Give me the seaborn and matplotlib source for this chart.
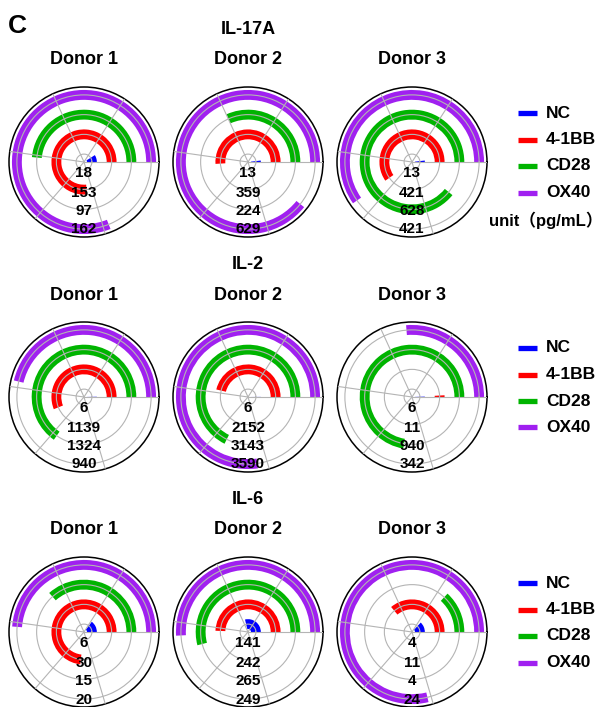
import numpy as np
import pandas as pd
import matplotlib
matplotlib.use("Agg")
import matplotlib.pyplot as plt
from matplotlib.lines import Line2D
import seaborn as sns

# data
treatments = ["NC", "4-1BB", "CD28", "OX40"]
colors = ["#0000ff", "#ff0000", "#00b400", "#a020f0"]
donors = ["Donor 1", "Donor 2", "Donor 3"]
cytokines = ["IL-17A", "IL-2", "IL-6"]

il17a = [[18, 153, 97, 162], [13, 359, 224, 629], [13, 421, 628, 421]]
il2 = [[6, 1139, 1324, 940], [6, 2152, 3143, 3590], [6, 11, 940, 342]]
il6 = [[6, 30, 15, 20], [141, 242, 265, 249], [4, 11, 4, 24]]

# value that one full turn of the circle stands for, per donor panel
il17a_turn = [200, 705, 705]
il2_turn = [2030, 4650, 1300]
il6_turn = [41, 490, 30.5]

panels = [il17a, il2, il6]
turns = [il17a_turn, il2_turn, il6_turn]

sns.set_theme(style="white", rc={"text.color": "black", "axes.labelcolor": "black"})
plt.rcParams["font.family"] = ["Liberation Sans", "Noto Sans CJK SC", "DejaVu Sans"]

W, H = 607, 707
col_cx = [84, 248, 412]
row_cy = [162, 397, 632]
R = 75
ring_pos = np.arange(4) + 0.4
label_r = [0.55, 1.55, 2.5, 3.42]


def fx(px):
    return px / W


def fy(py):
    return 1 - py / H


fig = plt.figure(figsize=(W / 100, H / 100), dpi=100)
fig.patch.set_facecolor("white")

fig.text(fx(8), fy(26), "C", ha="left", va="center", fontsize=19,
         weight="bold", color="black")

for i, (cyto, data, turn) in enumerate(zip(cytokines, panels, turns)):
    cy = row_cy[i]
    fig.text(fx(col_cx[1]), fy(cy - R - 57), cyto, ha="center", va="center",
             fontsize=13, weight="bold", color="black")
    for j, donor in enumerate(donors):
        cx = col_cx[j]
        ax = fig.add_axes([fx(cx - R), fy(cy + R), 2 * R / W, 2 * R / H],
                          projection="polar")
        values = data[j]
        df = pd.DataFrame({
            "treatment": treatments,
            "pos": ring_pos,
            "angle": np.array(values) / turn[j] * 2 * np.pi,
        })
        sns.barplot(data=df, x="angle", y="pos", hue="treatment",
                    hue_order=treatments, palette=colors, orient="h",
                    native_scale=True, width=0.5, errorbar=None,
                    saturation=1, legend=False, linewidth=0, ax=ax)
        ax.set_xlabel("")
        ax.set_ylabel("")
        ax.set_ylim(0, 3.8)
        ax.set_xlim(0, 2 * np.pi)
        ax.set_xticks(np.arange(0, 6))
        ax.set_xticklabels([])
        ax.set_yticks(ring_pos)
        ax.set_yticklabels([])
        ax.grid(True, color="#b4b4b4", linewidth=0.8)
        ax.set_axisbelow(False)
        ax.spines["polar"].set_color("black")
        ax.spines["polar"].set_linewidth(1.1)
        ax.set_facecolor("white")
        for r, v in zip(label_r, values):
            ax.text(-np.pi / 2, r, str(v), ha="center", va="center",
                    fontsize=11, weight="bold", color="black", zorder=5)

        fig.text(fx(cx), fy(cy - R - 27), donor, ha="center", va="center",
                 fontsize=13, weight="bold", color="black")

    # legend column
    for k, (name, c) in enumerate(zip(treatments, colors)):
        yy = cy - 49 + k * 26.5
        fig.add_artist(Line2D([fx(518), fx(537)], [fy(yy), fy(yy)],
                              transform=fig.transFigure, color=c, lw=3.8,
                              solid_capstyle="butt"))
        fig.text(fx(546), fy(yy), name, ha="left", va="center",
                 fontsize=12.5, weight="bold", color="black")
    if i == 0:
        fig.text(fx(489), fy(cy + 58), "unit（pg/mL）", ha="left", va="center",
                 fontsize=12, weight="bold", color="black")

fig.savefig("out.png", dpi=100)
